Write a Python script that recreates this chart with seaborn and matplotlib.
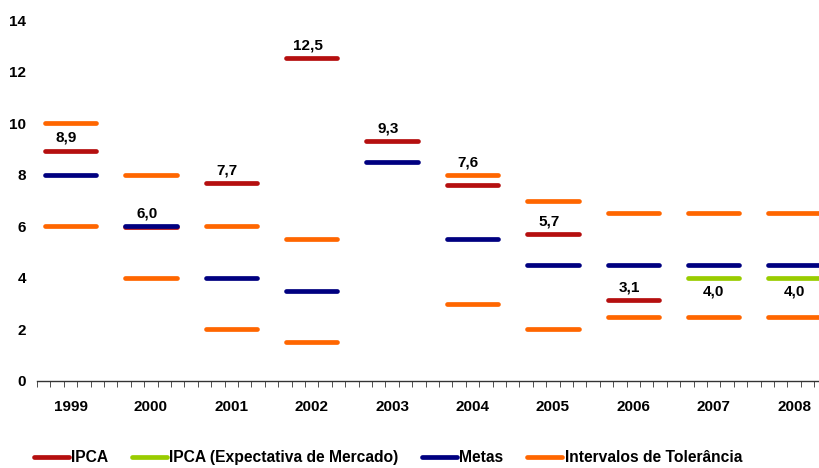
import numpy as np
import pandas as pd
import seaborn as sns
import matplotlib.pyplot as plt
from matplotlib.lines import Line2D
from matplotlib.ticker import MultipleLocator, FixedLocator

# dados do gráfico
anos = ['1999', '2000', '2001', '2002', '2003', '2004', '2005', '2006', '2007', '2008']
ipca = [8.94, 5.97, 7.67, 12.53, 9.30, 7.60, 5.69, 3.14, None, None]
ipca_expect = [None, None, None, None, None, None, None, None, 4.0, 4.0]
metas = [8.0, 6.0, 4.0, 3.5, 8.5, 5.5, 4.5, 4.5, 4.5, 4.5]
limite_sup = [10.0, 8.0, 6.0, 5.5, None, 8.0, 7.0, 6.5, 6.5, 6.5]
limite_inf = [6.0, 4.0, 2.0, 1.5, None, 3.0, 2.0, 2.5, 2.5, 2.5]

series = ['IPCA', 'IPCA (Expectativa de Mercado)', 'Metas', 'Intervalos de Tolerância']
cores = ['#B50F0F', '#99CC00', '#000080', '#FF6600']

linhas = []
for nome, vals in [('IPCA', ipca), ('IPCA (Expectativa de Mercado)', ipca_expect), ('Metas', metas),
                   ('Intervalos de Tolerância', limite_sup), ('Intervalos de Tolerância', limite_inf)]:
    for a, v in zip(anos, vals):
        if v is not None:
            linhas.append({'ano': a, 'serie': nome, 'valor': v})
df = pd.DataFrame(linhas)

sns.set_style('white')
plt.rcParams['font.family'] = ['Liberation Sans', 'DejaVu Sans']
plt.rcParams['text.color'] = 'black'
plt.rcParams['xtick.color'] = 'black'
plt.rcParams['ytick.color'] = 'black'

fig = plt.figure(figsize=(8.19, 4.68), dpi=100)
# o eixo continua além da borda direita, como no original
ax = fig.add_axes([0.0452, 0.186, 0.9735, 0.771])

pal = dict(zip(series, cores))
sns.stripplot(data=df, x='ano', y='valor', hue='serie', order=anos,
              hue_order=series, palette=pal, jitter=False, dodge=False,
              marker='_', size=37, linewidth=3.4, legend=False, ax=ax, zorder=3)
for col in ax.collections:
    fc = col.get_facecolor()
    col.set_edgecolor(fc)
    col.set_capstyle('round')

# rótulos do IPCA (acima da linha mais próxima para não sobrepor)
fs = 11
for i, a in enumerate(anos):
    v = ipca[i]
    if v is not None:
        outros = [s[i] for s in (metas, limite_sup, limite_inf) if s[i] is not None]
        y = max([v] + [o for o in outros if 0 <= o - v < 0.6])
        ax.annotate(f'{v:.1f}'.replace('.', ','), (i, y), xytext=(-3, 4),
                    textcoords='offset points', ha='center', va='bottom',
                    fontsize=fs, fontweight='bold')
    if ipca_expect[i] is not None:
        ax.annotate(f'{ipca_expect[i]:.1f}'.replace('.', ','), (i, ipca_expect[i]), xytext=(0, -5),
                    textcoords='offset points', ha='center', va='top',
                    fontsize=fs, fontweight='bold')

ax.set_xlim(-5 / 12, len(anos) - 0.5)
ax.set_ylim(0, 14)
ax.yaxis.set_major_locator(MultipleLocator(2))
ax.xaxis.set_minor_locator(FixedLocator(np.arange(-5 / 12, len(anos), 1 / 6)))
ax.set_xlabel('')
ax.set_ylabel('')
for s in ['top', 'right', 'left']:
    ax.spines[s].set_visible(False)
ax.spines['bottom'].set_color('#333333')
ax.spines['bottom'].set_linewidth(1)
ax.tick_params(axis='y', length=0, pad=8, labelsize=fs)
ax.tick_params(axis='x', which='major', length=0, pad=14, labelsize=fs)
ax.tick_params(axis='x', which='minor', length=4, color='#333333', direction='out', bottom=True)
for lab in ax.get_xticklabels() + ax.get_yticklabels():
    lab.set_fontweight('bold')

handles = [Line2D([0], [0], color=c, lw=3.4, solid_capstyle='round') for c in cores]
fig.legend(handles, series, loc='center left', bbox_to_anchor=(0.024, 0.022), ncol=4,
           frameon=False, handlelength=2.25, handletextpad=0.15, columnspacing=1.5,
           prop={'weight': 'bold', 'size': 11.25})

fig.savefig('out.png', dpi=100)
